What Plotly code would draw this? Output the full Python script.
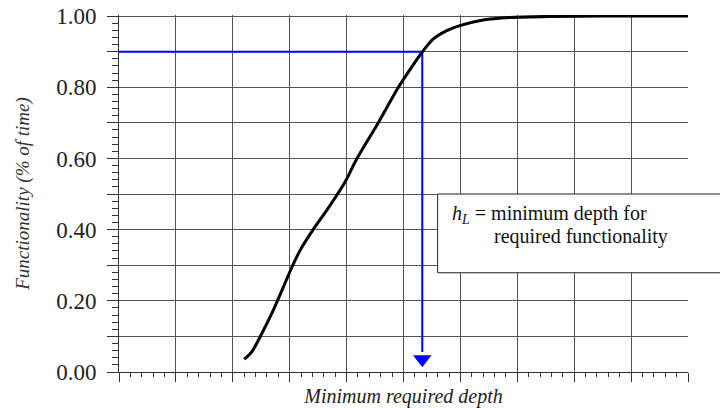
import plotly.graph_objects as go

# ---- data ----
depth = [2.20, 2.33, 2.51, 2.71, 2.89, 3.04, 3.18, 3.42, 3.65, 3.97, 4.18, 4.56,
         4.91, 5.14, 5.32, 5.52, 5.76, 5.99, 6.40, 6.87, 7.57, 8.50, 10.0]
functionality = [0.036, 0.056, 0.108, 0.173, 0.239, 0.295, 0.341, 0.402, 0.454,
                 0.533, 0.599, 0.701, 0.800, 0.856, 0.897, 0.935, 0.959, 0.973,
                 0.989, 0.996, 0.999, 1.0, 1.0]

target_functionality = 0.9
h_L = 5.33
arrow_tip = 0.036

y_tick_values = [0.0, 0.1, 0.2, 0.3, 0.4, 0.5, 0.6, 0.7, 0.8, 0.9, 1.0]
y_tick_labels = ["0.00", " ", "0.20", " ", "0.40", " ", "0.60", " ", "0.80", " ", "1.00"]
x_tick_values = [0, 1, 2, 3, 4, 5, 6, 7, 8, 9, 10]

SERIF = "Liberation Serif"
GRID = "#555555"

fig = go.Figure()

# blue guide lines: from y-axis to the curve, then down to the x-axis
fig.add_trace(go.Scatter(
    x=[0, h_L, h_L], y=[target_functionality, target_functionality, arrow_tip + 0.02],
    mode="lines", line=dict(color="#0000ff", width=2), hoverinfo="skip"))
fig.add_trace(go.Scatter(
    x=[h_L], y=[arrow_tip], mode="markers",
    marker=dict(symbol="triangle-down", size=16, color="#0000ff"),
    cliponaxis=False, hoverinfo="skip"))

# functionality curve
fig.add_trace(go.Scatter(
    x=depth, y=functionality, mode="lines",
    line=dict(color="black", width=3, shape="spline", smoothing=0.8),
    hoverinfo="skip"))

# annotation box
fig.add_shape(type="rect", xref="paper", yref="paper",
              x0=0.560, x1=1.07, y0=0.278, y1=0.4986,
              line=dict(color="#222222", width=1), fillcolor="white", layer="above")
fig.add_annotation(xref="paper", yref="paper", x=0.582, y=0.44,
                   xanchor="left", yanchor="middle", showarrow=False,
                   text="<i>h</i><sub><i>L</i></sub> = minimum depth for",
                   font=dict(family=SERIF, size=20, color="#111111"))
fig.add_annotation(xref="paper", yref="paper", x=0.655, y=0.379,
                   xanchor="left", yanchor="middle", showarrow=False,
                   text="required functionality",
                   font=dict(family=SERIF, size=20, color="#111111"))

fig.update_layout(
    width=720, height=408,
    margin=dict(l=119, r=32, t=15, b=36, autoexpand=False),
    paper_bgcolor="white", plot_bgcolor="white",
    showlegend=False,
    font=dict(family=SERIF, color="#222222"),
)

fig.update_xaxes(
    automargin=False,
    range=[0, 10], tickmode="array", tickvals=x_tick_values, showticklabels=False,
    ticks="outside", ticklen=9, tickcolor="#333333", tickwidth=1,
    showgrid=True, gridcolor=GRID, gridwidth=1, zeroline=False,
    showline=True, linecolor="#333333", linewidth=1,
    minor=dict(dtick=0.2, tick0=0, ticks="outside", ticklen=4, tickcolor="#333333", showgrid=False),
    title=dict(text="<i>Minimum required depth</i>", font=dict(family=SERIF, size=20, color="#222222"),
               standoff=9),
)
fig.update_yaxes(
    automargin=False,
    range=[0, 1.003], tickmode="array", tickvals=y_tick_values, ticktext=y_tick_labels,
    ticks="outside", ticklen=11, tickcolor="#333333", tickwidth=1,
    tickfont=dict(family=SERIF, size=23, color="#222222"), ticklabelstandoff=6,
    ticklabeloverflow="allow",
    showgrid=True, gridcolor=GRID, gridwidth=1, zeroline=False,
    showline=True, linecolor="#333333", linewidth=1,
    minor=dict(dtick=0.02, tick0=0, ticks="outside", ticklen=6, tickcolor="#333333", showgrid=False),
    title=dict(text="<i>Functionality (% of time)</i>", font=dict(family=SERIF, size=19, color="#333333"),
               standoff=21),
)

# remove the default 8px page margin so the 720x408 figure fills the window exactly
fig.write_html("out.html", config={"displayModeBar": False},
               post_script="document.body.style.margin='0';")
